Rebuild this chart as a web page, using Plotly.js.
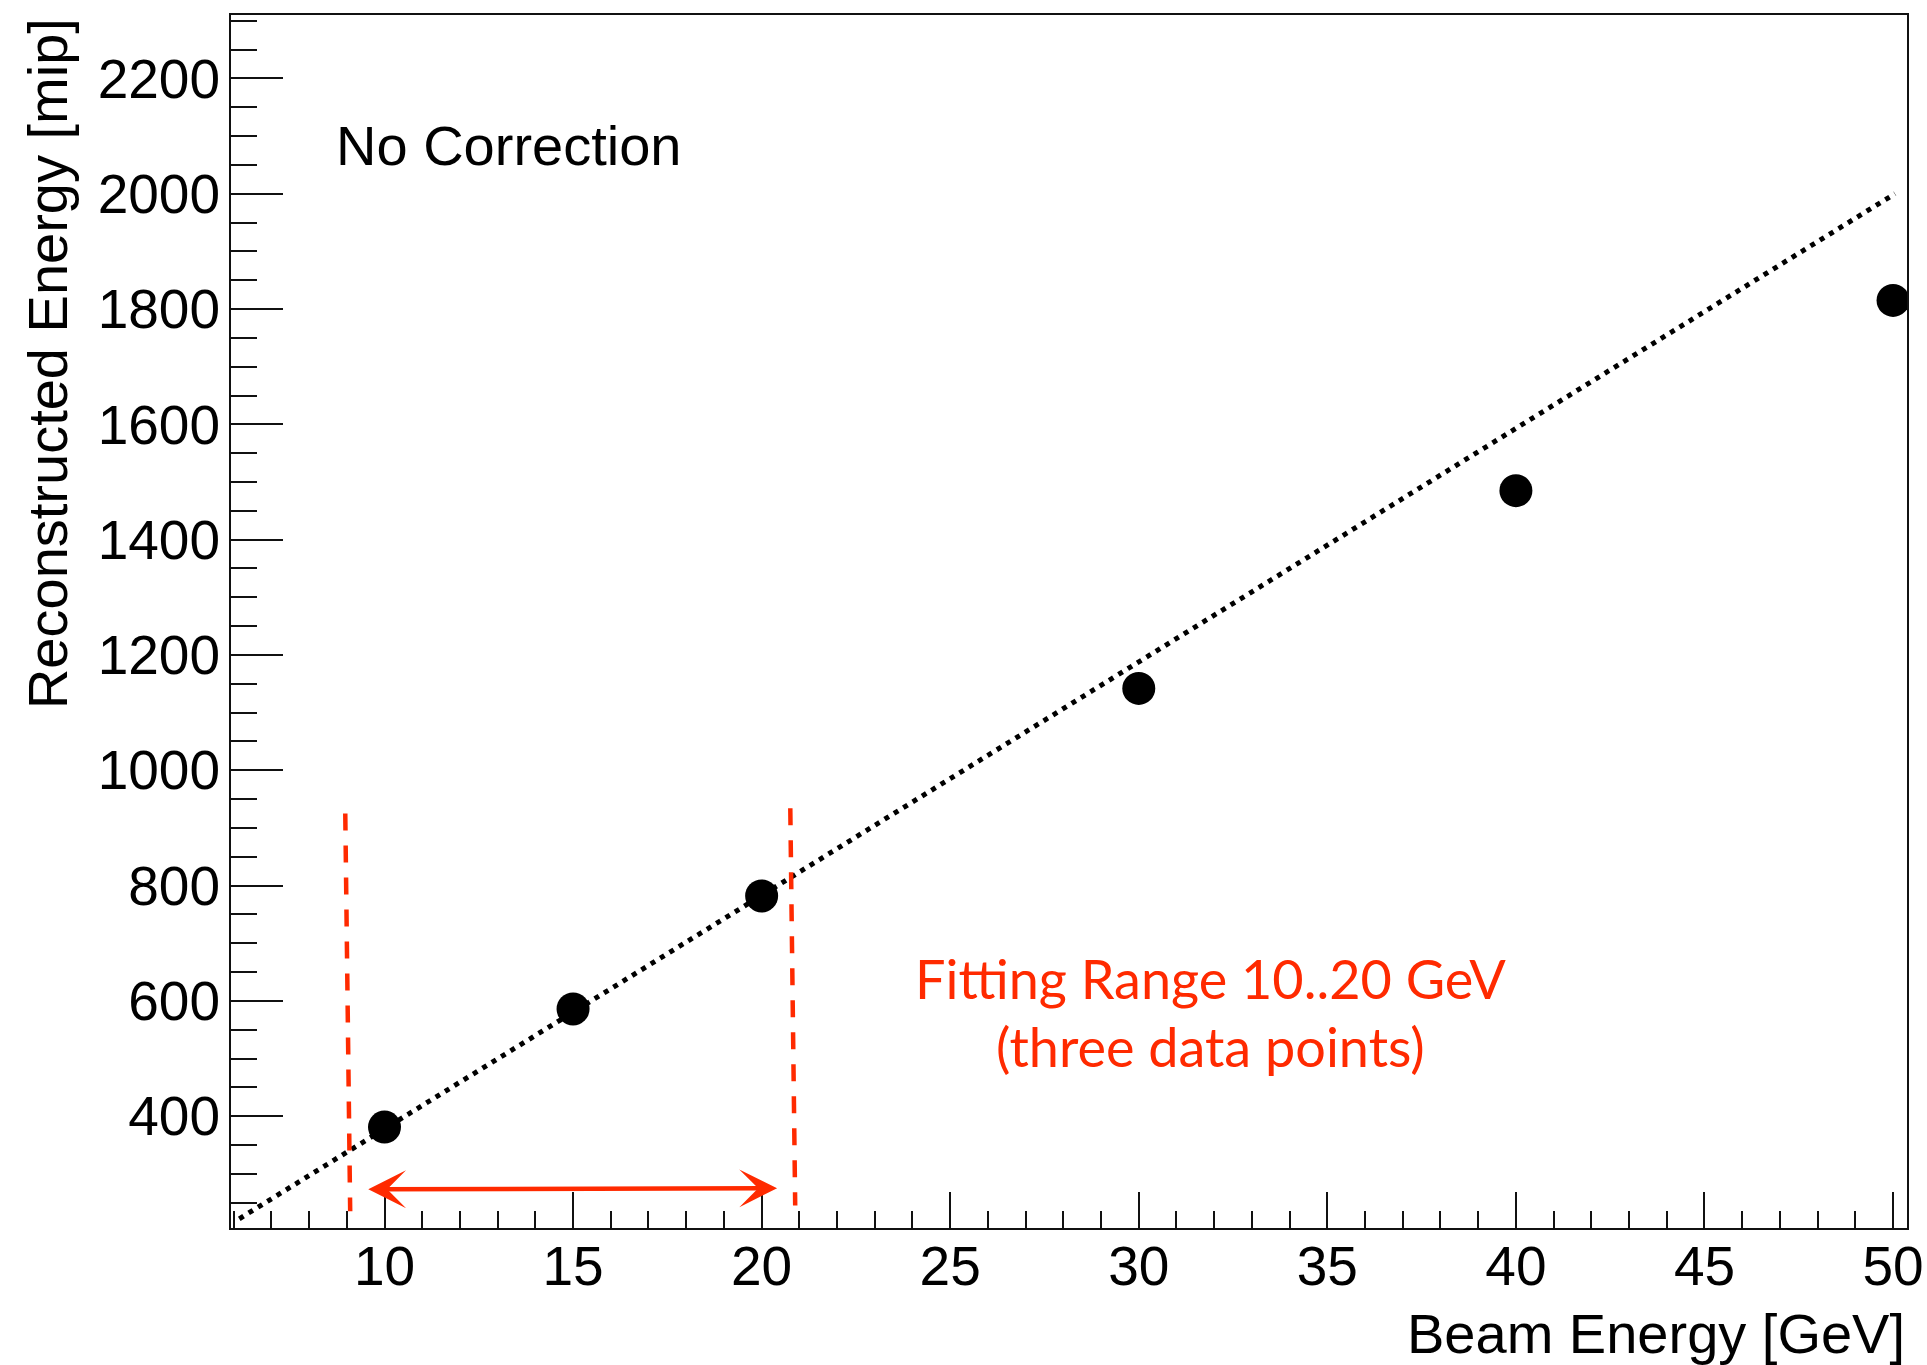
<!DOCTYPE html>
<html>
<head>
<meta charset="utf-8">
<script src="https://cdn.plot.ly/plotly-3.0.1.min.js"></script>
<style>
  html, body { margin: 0; padding: 0; background: #fff; }
  #chart { width: 1927px; height: 1365px; }
</style>
</head>
<body>
<div id="chart"></div>
<script>
// Measured data points
const beamEnergy = [10, 15, 20, 30, 40, 50];
const recoEnergy = [381, 586, 782, 1142, 1485, 1815];

// Linear fit (10..20 GeV) drawn across the range: end points
const fitX = [6.15, 50.05];
const fitY = [222, 2000];

// Fit range markers
const leftCutX = [8.96, 9.09];
const leftCutY = [925, 235];
const rightCutX = [20.76, 20.89];
const rightCutY = [934, 245];

// Double arrow of the fitting range
const arrowX = [9.53, 20.41];
const arrowY = [273, 275];

// Axis ranges and labels
const xRange = [5.93, 50.37];
const yRange = [206, 2310];
const xTitle = 'Beam Energy [GeV]';
const yTitle = 'Reconstructed Energy [mip]';
const panelLabel = 'No Correction';
const rangeLabel1 = 'Fitting Range 10..20 GeV';
const rangeLabel2 = '(three data points)';

const RED = '#ff2a00';
const AX = '#111';
const FONT = 'Liberation Sans, Arial, Helvetica, sans-serif';

const traces = [
  {
    x: fitX, y: fitY, type: 'scatter', mode: 'lines',
    line: { color: '#000', width: 5, dash: '5px,6px' },
    hoverinfo: 'skip', showlegend: false
  },
  {
    x: leftCutX, y: leftCutY, type: 'scatter', mode: 'lines',
    line: { color: RED, width: 4.5, dash: '17px,15px' },
    hoverinfo: 'skip', showlegend: false
  },
  {
    x: rightCutX, y: rightCutY, type: 'scatter', mode: 'lines',
    line: { color: RED, width: 4.5, dash: '17px,15px' },
    hoverinfo: 'skip', showlegend: false
  },
  {
    x: beamEnergy, y: recoEnergy, type: 'scatter', mode: 'markers',
    marker: { color: '#000', size: 33, symbol: 'circle' },
    showlegend: false
  }
];

const layout = {
  width: 1927, height: 1365,
  margin: { l: 231, r: 20, t: 15, b: 137, pad: 0 },
  paper_bgcolor: '#fff', plot_bgcolor: '#fff',
  font: { family: FONT, color: '#000', size: 55 },
  showlegend: false,
  xaxis: {
    range: xRange, showgrid: false, zeroline: false,
    showline: true, linecolor: AX, linewidth: 2, mirror: true,
    ticks: 'inside', ticklen: 36, tickwidth: 2, tickcolor: AX,
    tick0: 0, dtick: 5,
    minor: { ticks: 'inside', ticklen: 17, tickwidth: 2, tickcolor: AX, dtick: 1, tick0: 0, showgrid: false },
    tickfont: { family: FONT, size: 55, color: '#000' },
    ticklabelstandoff: -11
  },
  yaxis: {
    range: yRange, showgrid: false, zeroline: false,
    showline: true, linecolor: AX, linewidth: 2, mirror: true,
    ticks: 'inside', ticklen: 52, tickwidth: 2, tickcolor: AX,
    tick0: 0, dtick: 200,
    minor: { ticks: 'inside', ticklen: 26, tickwidth: 2, tickcolor: AX, dtick: 50, tick0: 0, showgrid: false },
    tickfont: { family: FONT, size: 55, color: '#000' },
    ticklabelstandoff: -2
  },
  annotations: [
    {
      text: yTitle, xref: 'paper', yref: 'paper', x: -0.1098, y: 0.9995,
      xanchor: 'center', yanchor: 'top', textangle: -90, showarrow: false,
      font: { family: FONT, size: 56, color: '#000' }
    },
    {
      text: xTitle, xref: 'paper', yref: 'paper', x: 1.0, y: -0.0866,
      xanchor: 'right', yanchor: 'middle', showarrow: false,
      font: { family: FONT, size: 56, color: '#000' }
    },
    {
      text: panelLabel, xref: 'x', yref: 'y', x: 8.67, y: 2084,
      xanchor: 'left', yanchor: 'middle', showarrow: false,
      font: { family: FONT, size: 56, color: '#000' }
    },
    {
      text: rangeLabel1, xref: 'x', yref: 'y', x: 31.9, y: 639,
      xanchor: 'center', yanchor: 'middle', showarrow: false,
      font: { family: 'Lato, sans-serif', size: 54, color: RED }
    },
    {
      text: rangeLabel2, xref: 'x', yref: 'y', x: 31.9, y: 521,
      xanchor: 'center', yanchor: 'middle', showarrow: false,
      font: { family: 'Lato, sans-serif', size: 54, color: RED }
    },
    {
      text: '', xref: 'x', yref: 'y', x: arrowX[1], y: arrowY[1],
      axref: 'x', ayref: 'y', ax: arrowX[0], ay: arrowY[0],
      showarrow: true, arrowside: 'end+start', arrowhead: 3, startarrowhead: 3,
      arrowsize: 1.4, startarrowsize: 1.4, arrowwidth: 4.5, arrowcolor: RED,
      standoff: 0, startstandoff: 0
    }
  ]
};

Plotly.newPlot('chart', traces, layout, { displayModeBar: false, staticPlot: true });
</script>
</body>
</html>
